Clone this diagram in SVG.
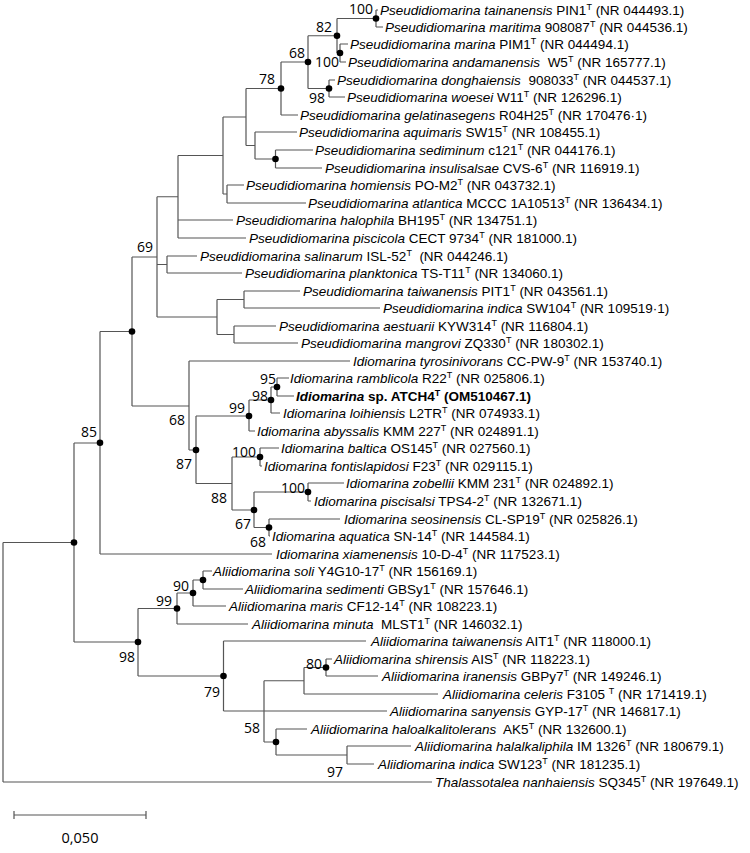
<svg xmlns="http://www.w3.org/2000/svg" width="750" height="853" viewBox="0 0 750 853">
<style>
.t{font-family:"Liberation Sans",Arial,sans-serif;font-size:13.5px;fill:#000}
.i{font-style:italic}
.s{font-size:9px}
.b{font-weight:bold}
.bs{font-family:"Open Sans","Liberation Sans",sans-serif;font-size:14px;fill:#000;text-anchor:end}
.br path{fill:none;stroke:#555;stroke-width:1.2}
.d{fill:#000}
</style>
<rect width="750" height="853" fill="#fff"/>
<g id="branches" class="br">
<path d="M376 10V27M376 10H378M376 27H383"/>
<path d="M340 44V62M340 44H348M340 62H346"/>
<path d="M337 18.5V53M337 18.5H376M337 53H340"/>
<path d="M329 80V97M329 80H335M329 97H345"/>
<path d="M308 35.75V88.5M308 35.75H337M308 88.5H329"/>
<path d="M281 62V115M281 62H308M281 115H298"/>
<path d="M275.5 150V168M275.5 150H313M275.5 168H322"/>
<path d="M255 132V159M255 132H297M255 159H275.5"/>
<path d="M246 88.5V145.5M246 88.5H281M246 145.5H255"/>
<path d="M227 185V203M227 185H244M227 203H306"/>
<path d="M223 117V194M223 117H246M223 194H227"/>
<path d="M178 155.5V238M178 155.5H223M178 220H233M178 238H246"/>
<path d="M167 256V273M167 256H197M167 273H242"/>
<path d="M244 291V308M244 291H300M244 308H380"/>
<path d="M234 326V343M234 326H276M234 343H298"/>
<path d="M217 299.5V334.5M217 299.5H244M217 334.5H234"/>
<path d="M157 196.75V317M157 196.75H178M157 264.5H167M157 317H217"/>
<path d="M132 257V406M132 257H157M132 406H189"/>
<path d="M277 378V396M277 378H289M277 396H294"/>
<path d="M271 387V413M271 387H277M271 413H280"/>
<path d="M249 400V431M249 400H271M249 431H255"/>
<path d="M260 448V466M260 448H279M260 466H262"/>
<path d="M308 483V501M308 483H344M308 501H311"/>
<path d="M269 519V536M269 519H340M269 536H270"/>
<path d="M254 492V527.5M254 492H308M254 527.5H269"/>
<path d="M232 457V510M232 457H260M232 510H254"/>
<path d="M196 416V483.5M196 416H249M196 483.5H232"/>
<path d="M189 361V450M189 361H350M189 450H196"/>
<path d="M100 331.5V554M100 331.5H132M100 554H272"/>
<path d="M74 443V642M74 443H100M74 642H138"/>
<path d="M3 542.5V782M3 542.5H74M3 782H432"/>
<path d="M203 571V589M203 571H212M203 589H243"/>
<path d="M193 580V606M193 580H203M193 606H226"/>
<path d="M177 593V624M177 593H193M177 624H248"/>
<path d="M326 659V676M326 659H332M326 676H378"/>
<path d="M304 667.5V694M304 667.5H326M304 694H438"/>
<path d="M347 746V764M347 746H411M347 764H374"/>
<path d="M276 729V755M276 729H307M276 755H347"/>
<path d="M264 680.75V742M264 680.75H304M264 742H276"/>
<path d="M223.5 641V711M223.5 641H366M223.5 711H387"/>
<path d="M138 608.5V676M138 608.5H177M138 676H223.5"/>
</g>
<g id="nodes">
<g id="n-tain"><circle class="d" cx="376" cy="18.5" r="3.3"/><text class="bs" x="373" y="14">100</text></g>
<g id="n-82"><circle class="d" cx="337" cy="35.75" r="3.3"/><text class="bs" x="332" y="32">82</text></g>
<g id="n-marina"><circle class="d" cx="340" cy="53" r="3.3"/><text class="bs" x="339" y="67">100</text></g>
<g id="n-68p"><circle class="d" cx="308" cy="62" r="3.3"/><text class="bs" x="305" y="58">68</text></g>
<g id="n-98d"><circle class="d" cx="329" cy="88.5" r="3.3"/><text class="bs" x="325" y="103">98</text></g>
<g id="n-78"><circle class="d" cx="281" cy="88.5" r="3.3"/><text class="bs" x="275" y="84">78</text></g>
<g id="n-sed"><circle class="d" cx="275.5" cy="159" r="3.3"/></g>
<g id="n-69"><text class="bs" x="153" y="252">69</text></g>
<g id="n-v"><circle class="d" cx="132" cy="331.5" r="3.3"/></g>
<g id="n-95"><circle class="d" cx="277" cy="387" r="3.3"/><text class="bs" x="276" y="384">95</text></g>
<g id="n-98i"><circle class="d" cx="271" cy="400" r="3.3"/><text class="bs" x="268" y="401">98</text></g>
<g id="n-99i"><circle class="d" cx="249" cy="416" r="3.3"/><text class="bs" x="245" y="413">99</text></g>
<g id="n-68i"><text class="bs" x="185" y="425">68</text></g>
<g id="n-87"><circle class="d" cx="196" cy="450" r="3.3"/><text class="bs" x="192" y="469">87</text></g>
<g id="n-bal"><circle class="d" cx="260" cy="457" r="3.3"/><text class="bs" x="256" y="457">100</text></g>
<g id="n-88"><text class="bs" x="227" y="503">88</text></g>
<g id="n-zob"><circle class="d" cx="308" cy="492" r="3.3"/><text class="bs" x="305" y="493">100</text></g>
<g id="n-67"><circle class="d" cx="254" cy="510" r="3.3"/><text class="bs" x="251" y="529">67</text></g>
<g id="n-68a"><circle class="d" cx="269" cy="527.5" r="3.3"/><text class="bs" x="266" y="547">68</text></g>
<g id="n-85"><circle class="d" cx="100" cy="442.75" r="3.3"/><text class="bs" x="97" y="437">85</text></g>
<g id="n-r"><circle class="d" cx="74" cy="542.5" r="3.3"/></g>
<g id="n-soli"><circle class="d" cx="203" cy="580" r="3.3"/></g>
<g id="n-90"><circle class="d" cx="193" cy="593" r="3.3"/><text class="bs" x="189" y="591">90</text></g>
<g id="n-99a"><circle class="d" cx="177" cy="608.5" r="3.3"/><text class="bs" x="172" y="606">99</text></g>
<g id="n-98a"><circle class="d" cx="138" cy="642" r="3.3"/><text class="bs" x="135" y="662">98</text></g>
<g id="n-80"><circle class="d" cx="326" cy="667.5" r="3.3"/><text class="bs" x="322" y="669">80</text></g>
<g id="n-79"><circle class="d" cx="223.5" cy="676" r="3.3"/><text class="bs" x="220" y="697">79</text></g>
<g id="n-58"><text class="bs" x="260" y="733">58</text></g>
<g id="n-halo"><circle class="d" cx="276" cy="742" r="3.3"/></g>
<g id="n-97"><text class="bs" x="343" y="777">97</text></g>
</g>
<g id="leaves">
<g id="l01"><text class="t" x="380" y="14.5"><tspan class="i">Pseudidiomarina tainanensis</tspan> PIN1<tspan class="s" dy="-5">T</tspan><tspan dy="5"> (NR 044493.1)</tspan></text></g>
<g id="l02"><text class="t" x="385" y="32"><tspan class="i">Pseudidiomarina maritima</tspan> 908087<tspan class="s" dy="-5">T</tspan><tspan dy="5"> (NR 044536.1)</tspan></text></g>
<g id="l03"><text class="t" x="350" y="49"><tspan class="i">Pseudidiomarina marina</tspan> PIM1<tspan class="s" dy="-5">T</tspan><tspan dy="5"> (NR 044494.1)</tspan></text></g>
<g id="l04"><text class="t" x="348" y="66.5" xml:space="preserve"><tspan class="i">Pseudidiomarina andamanensis</tspan>  W5<tspan class="s" dy="-5">T</tspan><tspan dy="5"> (NR 165777.1)</tspan></text></g>
<g id="l05"><text class="t" x="337" y="84.5" xml:space="preserve"><tspan class="i">Pseudidiomarina donghaiensis</tspan>  908033<tspan class="s" dy="-5">T</tspan><tspan dy="5"> (NR 044537.1)</tspan></text></g>
<g id="l06"><text class="t" x="347" y="101.5"><tspan class="i">Pseudidiomarina woesei</tspan> W11<tspan class="s" dy="-5">T</tspan><tspan dy="5"> (NR 126296.1)</tspan></text></g>
<g id="l07"><text class="t" x="300" y="119.5"><tspan class="i">Pseudidiomarina gelatinasegens</tspan> R04H25<tspan class="s" dy="-5">T</tspan><tspan dy="5"> (NR 170476·1)</tspan></text></g>
<g id="l08"><text class="t" x="299" y="136.5"><tspan class="i">Pseudidiomarina aquimaris</tspan> SW15<tspan class="s" dy="-5">T</tspan><tspan dy="5"> (NR 108455.1)</tspan></text></g>
<g id="l09"><text class="t" x="315" y="154.5"><tspan class="i">Pseudidiomarina sediminum</tspan> c121<tspan class="s" dy="-5">T</tspan><tspan dy="5"> (NR 044176.1)</tspan></text></g>
<g id="l10"><text class="t" x="325" y="172.5"><tspan class="i">Pseudidiomarina insulisalsae</tspan> CVS-6<tspan class="s" dy="-5">T</tspan><tspan dy="5"> (NR 116919.1)</tspan></text></g>
<g id="l11"><text class="t" x="246" y="189.5"><tspan class="i">Pseudidiomarina homiensis</tspan> PO-M2<tspan class="s" dy="-5">T</tspan><tspan dy="5"> (NR 043732.1)</tspan></text></g>
<g id="l12"><text class="t" x="308" y="207.5"><tspan class="i">Pseudidiomarina atlantica</tspan> MCCC 1A10513<tspan class="s" dy="-5">T</tspan><tspan dy="5"> (NR 136434.1)</tspan></text></g>
<g id="l13"><text class="t" x="236" y="224.5"><tspan class="i">Pseudidiomarina halophila</tspan> BH195<tspan class="s" dy="-5">T</tspan><tspan dy="5"> (NR 134751.1)</tspan></text></g>
<g id="l14"><text class="t" x="249" y="242.5"><tspan class="i">Pseudidiomarina piscicola</tspan> CECT 9734<tspan class="s" dy="-5">T</tspan><tspan dy="5"> (NR 181000.1)</tspan></text></g>
<g id="l15"><text class="t" x="200" y="260.5" xml:space="preserve"><tspan class="i">Pseudidiomarina salinarum</tspan> ISL-52<tspan class="s" dy="-5">T</tspan><tspan dy="5">  (NR 044246.1)</tspan></text></g>
<g id="l16"><text class="t" x="245" y="277.5"><tspan class="i">Pseudidiomarina planktonica</tspan> TS-T11<tspan class="s" dy="-5">T</tspan><tspan dy="5"> (NR 134060.1)</tspan></text></g>
<g id="l17"><text class="t" x="303" y="295.5"><tspan class="i">Pseudidiomarina taiwanensis</tspan> PIT1<tspan class="s" dy="-5">T</tspan><tspan dy="5"> (NR 043561.1)</tspan></text></g>
<g id="l18"><text class="t" x="383" y="312.5"><tspan class="i">Pseudidiomarina indica</tspan> SW104<tspan class="s" dy="-5">T</tspan><tspan dy="5"> (NR 109519·1)</tspan></text></g>
<g id="l19"><text class="t" x="279" y="330.5"><tspan class="i">Pseudidiomarina aestuarii</tspan> KYW314<tspan class="s" dy="-5">T</tspan><tspan dy="5"> (NR 116804.1)</tspan></text></g>
<g id="l20"><text class="t" x="301" y="347.5"><tspan class="i">Pseudidiomarina mangrovi</tspan> ZQ330<tspan class="s" dy="-5">T</tspan><tspan dy="5"> (NR 180302.1)</tspan></text></g>
<g id="l21"><text class="t" x="353" y="365.5"><tspan class="i">Idiomarina tyrosinivorans</tspan> CC-PW-9<tspan class="s" dy="-5">T</tspan><tspan dy="5"> (NR 153740.1)</tspan></text></g>
<g id="l22"><text class="t" x="290" y="382.5"><tspan class="i">Idiomarina ramblicola</tspan> R22<tspan class="s" dy="-5">T</tspan><tspan dy="5"> (NR 025806.1)</tspan></text></g>
<g id="l23"><text class="t b" x="296" y="400.5"><tspan class="i">Idiomarina</tspan> sp. ATCH4<tspan class="s" dy="-5">T</tspan><tspan dy="5"> (OM510467.1)</tspan></text></g>
<g id="l24"><text class="t" x="283" y="417.5"><tspan class="i">Idiomarina loihiensis</tspan> L2TR<tspan class="s" dy="-5">T</tspan><tspan dy="5"> (NR 074933.1)</tspan></text></g>
<g id="l25"><text class="t" x="257" y="435.5"><tspan class="i">Idiomarina abyssalis</tspan> KMM 227<tspan class="s" dy="-5">T</tspan><tspan dy="5"> (NR 024891.1)</tspan></text></g>
<g id="l26"><text class="t" x="281" y="452.5"><tspan class="i">Idiomarina baltica</tspan> OS145<tspan class="s" dy="-5">T</tspan><tspan dy="5"> (NR 027560.1)</tspan></text></g>
<g id="l27"><text class="t" x="264" y="470.5"><tspan class="i">Idiomarina fontislapidosi</tspan> F23<tspan class="s" dy="-5">T</tspan><tspan dy="5"> (NR 029115.1)</tspan></text></g>
<g id="l28"><text class="t" x="346" y="487.5"><tspan class="i">Idiomarina zobellii</tspan> KMM 231<tspan class="s" dy="-5">T</tspan><tspan dy="5"> (NR 024892.1)</tspan></text></g>
<g id="l29"><text class="t" x="314" y="505.5"><tspan class="i">Idiomarina piscisalsi</tspan> TPS4-2<tspan class="s" dy="-5">T</tspan><tspan dy="5"> (NR 132671.1)</tspan></text></g>
<g id="l30"><text class="t" x="344" y="523.5"><tspan class="i">Idiomarina seosinensis</tspan> CL-SP19<tspan class="s" dy="-5">T</tspan><tspan dy="5"> (NR 025826.1)</tspan></text></g>
<g id="l31"><text class="t" x="272" y="540.5"><tspan class="i">Idiomarina aquatica</tspan> SN-14<tspan class="s" dy="-5">T</tspan><tspan dy="5"> (NR 144584.1)</tspan></text></g>
<g id="l32"><text class="t" x="276" y="558.5"><tspan class="i">Idiomarina xiamenensis</tspan> 10-D-4<tspan class="s" dy="-5">T</tspan><tspan dy="5"> (NR 117523.1)</tspan></text></g>
<g id="l33"><text class="t" x="213" y="575.5"><tspan class="i">Aliidiomarina soli</tspan> Y4G10-17<tspan class="s" dy="-5">T</tspan><tspan dy="5"> (NR 156169.1)</tspan></text></g>
<g id="l34"><text class="t" x="245" y="593.5"><tspan class="i">Aliidiomarina sedimenti</tspan> GBSy1<tspan class="s" dy="-5">T</tspan><tspan dy="5"> (NR 157646.1)</tspan></text></g>
<g id="l35"><text class="t" x="229" y="610.5"><tspan class="i">Aliidiomarina maris</tspan> CF12-14<tspan class="s" dy="-5">T</tspan><tspan dy="5"> (NR 108223.1)</tspan></text></g>
<g id="l36"><text class="t" x="252" y="628.5" xml:space="preserve"><tspan class="i">Aliidiomarina minuta</tspan>  MLST1<tspan class="s" dy="-5">T</tspan><tspan dy="5"> (NR 146032.1)</tspan></text></g>
<g id="l37"><text class="t" x="371" y="645.5"><tspan class="i">Aliidiomarina taiwanensis</tspan> AIT1<tspan class="s" dy="-5">T</tspan><tspan dy="5"> (NR 118000.1)</tspan></text></g>
<g id="l38"><text class="t" x="334" y="663.5"><tspan class="i">Aliidiomarina shirensis</tspan> AIS<tspan class="s" dy="-5">T</tspan><tspan dy="5"> (NR 118223.1)</tspan></text></g>
<g id="l39"><text class="t" x="382" y="680.5"><tspan class="i">Aliidiomarina iranensis</tspan> GBPy7<tspan class="s" dy="-5">T</tspan><tspan dy="5"> (NR 149246.1)</tspan></text></g>
<g id="l40"><text class="t" x="443" y="698.5"><tspan class="i">Aliidiomarina celeris</tspan> F3105 <tspan class="s" dy="-5">T</tspan><tspan dy="5"> (NR 171419.1)</tspan></text></g>
<g id="l41"><text class="t" x="390" y="715.5"><tspan class="i">Aliidiomarina sanyensis</tspan> GYP-17<tspan class="s" dy="-5">T</tspan><tspan dy="5"> (NR 146817.1)</tspan></text></g>
<g id="l42"><text class="t" x="311" y="733.5" xml:space="preserve"><tspan class="i">Aliidiomarina haloalkalitolerans</tspan>  AK5<tspan class="s" dy="-5">T</tspan><tspan dy="5"> (NR 132600.1)</tspan></text></g>
<g id="l43"><text class="t" x="415" y="750.5"><tspan class="i">Aliidiomarina halalkaliphila</tspan> IM 1326<tspan class="s" dy="-5">T</tspan><tspan dy="5"> (NR 180679.1)</tspan></text></g>
<g id="l44"><text class="t" x="378" y="768.5"><tspan class="i">Aliidiomarina indica</tspan> SW123<tspan class="s" dy="-5">T</tspan><tspan dy="5"> (NR 181235.1)</tspan></text></g>
<g id="l45"><text class="t" x="435" y="786.5"><tspan class="i">Thalassotalea nanhaiensis</tspan> SQ345<tspan class="s" dy="-5">T</tspan><tspan dy="5"> (NR 197649.1)</tspan></text></g>
</g>
<g id="scale">
<path d="M14 815H146M14 811V819M146 811V819" fill="none" stroke="#555" stroke-width="1.2"/>
<text x="80" y="843" font-family="Open Sans, Liberation Sans, sans-serif" font-size="14.5" text-anchor="middle">0,050</text>
</g>
</svg>
